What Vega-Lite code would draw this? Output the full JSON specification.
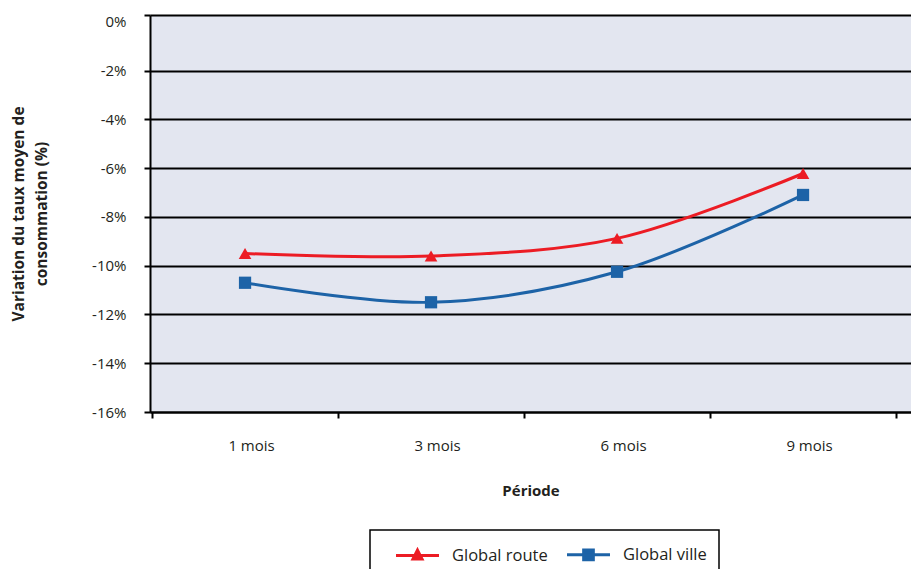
{
  "$schema": "https://vega.github.io/schema/vega-lite/v6.json",
  "width": 761,
  "height": 397,
  "autosize": {"type": "none"},
  "padding": {"left": 150, "top": 15, "right": 0, "bottom": 157},
  "background": "white",
  "config": {
    "view": {"fill": "#E3E6F0", "stroke": null},
    "font": "Open Sans"
  },
  "data": {
    "values": [
      {"periode": "1 mois", "serie": "Global route", "valeur": -9.5},
      {"periode": "3 mois", "serie": "Global route", "valeur": -9.6},
      {"periode": "6 mois", "serie": "Global route", "valeur": -8.88},
      {"periode": "9 mois", "serie": "Global route", "valeur": -6.22},
      {"periode": "1 mois", "serie": "Global ville", "valeur": -10.7},
      {"periode": "3 mois", "serie": "Global ville", "valeur": -11.5},
      {"periode": "6 mois", "serie": "Global ville", "valeur": -10.25},
      {"periode": "9 mois", "serie": "Global ville", "valeur": -7.1}
    ]
  },
  "encoding": {
    "x": {
      "field": "periode",
      "type": "nominal",
      "sort": ["1 mois", "3 mois", "6 mois", "9 mois"],
      "scale": {"type": "band", "paddingInner": 0, "paddingOuter": 0.0457, "align": 0.12},
      "axis": {
        "title": "Période",
        "labelAngle": 0,
        "tickBand": "extent",
        "grid": false,
        "domainColor": "black",
        "domainWidth": 2,
        "tickColor": "black",
        "tickWidth": 2,
        "tickSize": 6,
        "labelPadding": 20,
        "labelOffset": 6,
        "labelFontSize": 15,
        "labelColor": "#231F20",
        "titleFontSize": 15,
        "titleFontWeight": "bold",
        "titleColor": "#231F20",
        "titlePadding": 30
      }
    },
    "y": {
      "field": "valeur",
      "type": "quantitative",
      "scale": {"domain": [-16, 0.28], "nice": false, "zero": false},
      "axis": {
        "values": [-16, -14, -12, -10, -8, -6, -4, -2, 0, 0.28],
        "labelExpr": "datum.value > 0.1 ? '' : datum.value + '%'",
        "grid": true,
        "gridColor": {"condition": {"test": "datum.value == 0", "value": "transparent"}, "value": "black"},
        "gridWidth": 2,
        "gridOpacity": 1,
        "tickColor": {"condition": {"test": "datum.value == 0", "value": "transparent"}, "value": "black"},
        "tickWidth": 2,
        "tickSize": 6,
        "domainColor": "black",
        "domainWidth": 2,
        "labelPadding": 18,
        "labelFontSize": 15,
        "labelColor": "#231F20",
        "title": ["Variation du taux moyen de", "consommation (%)"],
        "titleFontSize": 15.5,
        "titleFontWeight": "bold",
        "titleColor": "#231F20",
        "titleLineHeight": 23,
        "titlePadding": 42
      }
    }
  },
  "layer": [
    {
      "mark": {"type": "line", "interpolate": "catmull-rom", "strokeWidth": 3},
      "encoding": {
        "color": {
          "field": "serie",
          "type": "nominal",
          "scale": {"domain": ["Global route", "Global ville"], "range": ["#EC1C24", "#1D63A7"]},
          "legend": {
            "title": null,
            "orient": "none",
            "legendX": 220,
            "legendY": 515,
            "direction": "horizontal",
            "strokeColor": "black",
            "padding": 12,
            "symbolSize": 462,
            "symbolStrokeWidth": 3,
            "symbolOffset": 23,
            "labelOffset": 22,
            "labelFontSize": 16.5,
            "labelColor": "#231F20",
            "columnPadding": 5,
            "encode": {
              "symbols": {
                "update": {
                  "shape": {"signal": "datum.value == 'Global route' ? 'M-2,0H2M0,-0.5L0.42,0.32H-0.42Z' : 'M-2,0H2M-0.45,-0.45H0.45V0.45H-0.45Z'"},
                  "fill": {"scale": "color", "field": "value"},
                  "stroke": {"scale": "color", "field": "value"},
                  "strokeWidth": {"value": 3},
                  "opacity": {"value": 1},
                  "fillOpacity": {"value": 1},
                  "size": {"value": 462}
                }
              },
              "legend": {"update": {"strokeWidth": {"value": 1.5}}}
            }
          }
        }
      }
    },
    {
      "transform": [{"filter": "datum.serie == 'Global route'"}],
      "mark": {"type": "point", "filled": true, "opacity": 1, "size": 160, "shape": "triangle-up"},
      "encoding": {"color": {"field": "serie", "type": "nominal", "legend": null}}
    },
    {
      "transform": [{"filter": "datum.serie == 'Global ville'"}],
      "mark": {"type": "point", "filled": true, "opacity": 1, "size": 150, "shape": "square"},
      "encoding": {"color": {"field": "serie", "type": "nominal", "legend": null}}
    }
  ]
}
